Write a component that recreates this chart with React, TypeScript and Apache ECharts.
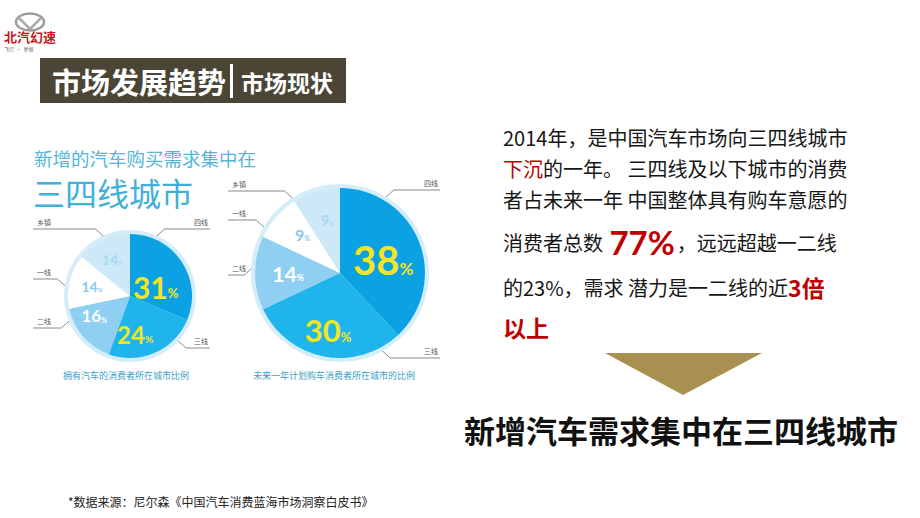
import React, { useEffect, useRef } from "react";
import * as echarts from "echarts";

// ---- data ----
const categories = ["四线", "三线", "二线", "一线", "乡镇"];
const ownerShare = [31, 24, 16, 14, 14]; // 拥有汽车的消费者所在城市比例
const plannedShare = [38, 30, 14, 9, 9]; // 未来一年计划购车消费者所在城市的比例
const chartTitleTop = "新增的汽车购买需求集中在";
const chartTitleBig = "三四线城市";
const leftCaption = "拥有汽车的消费者所在城市比例";
const rightCaption = "未来一年计划购车消费者所在城市的比例";

// ---- styles / label placement ----
const sliceColors = ["#0ba1e2", "#1fb4ec", "#8fcff1", "#ffffff", "#cde9f7"];
const pctColors = ["#f1e525", "#f1e525", "#ffffff", "#86c9ea", "#a9d8ef"];
const leftPctSizes = [30, 24, 17, 14, 14];
const rightPctSizes = [40, 31, 21, 16, 15];
const leftPctAngleAdj = [14, 16, 12, 0, 0];
const leftPctRadiusFrac = [0.44, 0.62, 0.66, 0.63, 0.66];
const rightPctAngleAdj = [5, 1, 0, 4, 3];
const rightPctRadiusFrac = [0.53, 0.69, 0.61, 0.63, 0.64];
const labelSides = ["right", "right", "left", "left", "left"];
const leftLabelLineY = [229, 348, 328, 279, 229];
const rightLabelLineY = [190, 358, 275, 220, 191];
const haloColor = "#d5edf9";
const CJK = '"Noto Sans CJK SC", "Noto Sans", sans-serif';

function makePie(
  values: number[],
  cx: number,
  cy: number,
  r: number,
  boxLeft: number,
  boxRight: number,
  pctSizes: number[],
  angleAdj: number[],
  radiusFrac: number[],
  lineYs: number[]
) {
  const boxW = boxRight - boxLeft;
  const total = values.reduce((a, b) => a + b, 0);
  const midAngles: number[] = [];
  let acc = 0;
  values.forEach((v) => {
    midAngles.push(((acc + v / 2) / total) * 360);
    acc += v;
  });
  const base = {
    type: "pie",
    left: boxLeft,
    top: 0,
    width: boxW,
    height: 518,
    center: [cx - boxLeft, cy],
    silent: true,
    clockwise: true,
    startAngle: 90,
    emphasis: { disabled: true },
  };
  const halo = {
    ...base,
    radius: [0, r + 4],
    label: { show: false },
    labelLine: { show: false },
    data: [{ value: 1, name: "", itemStyle: { color: haloColor } }],
  };
  const slices = {
    ...base,
    radius: [0, r],
    avoidLabelOverlap: false,
    labelLine: { show: false },
    labelLayout: (params: any) => {
      const i = params.dataIndex;
      const a = ((midAngles[i] + angleAdj[i]) * Math.PI) / 180;
      const d = r * radiusFrac[i];
      return {
        x: cx + d * Math.sin(a),
        y: cy - d * Math.cos(a),
        align: "center",
        verticalAlign: "middle",
      };
    },
    data: values.map((v, i) => ({
      value: v,
      name: categories[i],
      itemStyle: { color: sliceColors[i], borderWidth: 0 },
      label: {
        show: true,
        position: "inside",
        formatter: "{n|" + v + "}{p|%}",
        rich: {
          n: {
            fontSize: pctSizes[i],
            fontWeight: "bold",
            color: pctColors[i],
            fontFamily: "Lato, sans-serif",
            verticalAlign: "bottom",
          },
          p: {
            fontSize: Math.round(pctSizes[i] * 0.42),
            fontWeight: "bold",
            color: pctColors[i],
            fontFamily: "Lato, sans-serif",
            verticalAlign: "bottom",
            padding: [0, 0, Math.round(pctSizes[i] * 0.08), 0],
          },
        },
      },
    })),
  };
  const R = r + 1;
  const names = {
    ...base,
    radius: [0, r],
    avoidLabelOverlap: false,
    itemStyle: { color: "rgba(0,0,0,0)" },
    label: {
      show: true,
      position: "outside",
      overflow: "none",
      formatter: "{b}",
      fontSize: 7,
      color: "#555",
      fontFamily: CJK,
    },
    labelLine: {
      show: true,
      length: 9,
      length2: 10,
      lineStyle: { color: "#8a8a8a", width: 1 },
    },
    labelLayout: (params: any) => {
      const i = params.dataIndex;
      const isLeft = labelSides[i] === "left";
      const ly = lineYs[i];
      const ay = ly + (ly < cy ? 9 : -9);
      const dy = ay - cy;
      const hw = Math.sqrt(Math.max(0, R * R - dy * dy));
      const ax = isLeft ? cx - hw : cx + hw;
      const ex = isLeft ? ax - 10 : ax + 10;
      const endX = isLeft ? boxLeft : boxRight;
      return {
        labelLinePoints: [
          [ax, ay],
          [ex, ly],
          [endX, ly],
        ],
        x: isLeft ? boxLeft + 4 : boxRight - 2,
        y: ly - 7,
        align: isLeft ? "left" : "right",
        verticalAlign: "middle",
      };
    },
    data: values.map((v, i) => ({ value: v, name: categories[i] })),
  };
  return [halo, slices, names];
}

export default function App() {
  const ref = useRef<HTMLDivElement>(null);
  useEffect(() => {
    if (!ref.current) return;
    const chart = echarts.init(ref.current, null, { renderer: "svg" });
    const textBase = { fontFamily: CJK };
    const black = "#161616";
    const red = "#c00000";
    const option: any = {
      animation: false,
      backgroundColor: "#ffffff",
      textStyle: { fontFamily: CJK },
      series: [
        ...makePie(ownerShare, 130, 296, 62, 33, 210, leftPctSizes, leftPctAngleAdj, leftPctRadiusFrac, leftLabelLineY),
        ...makePie(plannedShare, 340, 273, 85, 228, 440, rightPctSizes, rightPctAngleAdj, rightPctRadiusFrac, rightLabelLineY),
      ],
      graphic: [
        // logo
        {
          type: "ellipse",
          shape: { cx: 30, cy: 22, rx: 14, ry: 8.5 },
          style: { fill: "none", stroke: "#9c9c9c", lineWidth: 2.5 },
        },
        {
          type: "polyline",
          shape: { points: [[19, 18], [30, 29], [41, 18]] },
          style: { fill: "none", stroke: "#a8a8a8", lineWidth: 2.5 },
        },
        {
          type: "text",
          x: 4,
          y: 36,
          style: { ...textBase, text: "北汽幻速", fontSize: 13, fontWeight: "bold", fill: "#c8161d", verticalAlign: "middle" },
        },
        {
          type: "text",
          x: 4,
          y: 48,
          style: { ...textBase, text: "飞行  ·  梦想", fontSize: 5, fill: "#666", verticalAlign: "middle" },
        },
        // title box
        {
          type: "rect",
          shape: { x: 40, y: 58, width: 306, height: 45 },
          style: { fill: "#4a4535" },
        },
        {
          type: "text",
          x: 52,
          y: 81,
          style: { ...textBase, text: "市场发展趋势", fontSize: 29, fontWeight: "bold", fill: "#ffffff", verticalAlign: "middle" },
        },
        {
          type: "rect",
          shape: { x: 230, y: 64, width: 3, height: 34 },
          style: { fill: "#ffffff" },
        },
        {
          type: "text",
          x: 241,
          y: 82,
          style: { ...textBase, text: "市场现状", fontSize: 23, fontWeight: "bold", fill: "#ffffff", verticalAlign: "middle" },
        },
        // pie infographic titles
        {
          type: "text",
          x: 34,
          y: 158,
          style: { ...textBase, text: chartTitleTop, fontSize: 18.5, lineHeight: 20, fill: "#55b6d8", verticalAlign: "middle" },
        },
        {
          type: "text",
          x: 33,
          y: 192,
          style: { ...textBase, text: chartTitleBig, fontSize: 32, lineHeight: 32, fill: "#3eb0da", verticalAlign: "middle" },
        },
        {
          type: "text",
          x: 126,
          y: 375,
          style: { ...textBase, text: leftCaption, fontSize: 9, fill: "#3b9fc9", align: "center", verticalAlign: "middle" },
        },
        {
          type: "text",
          x: 334,
          y: 375,
          style: { ...textBase, text: rightCaption, fontSize: 9, fill: "#3b9fc9", align: "center", verticalAlign: "middle" },
        },
        // right paragraph
        {
          type: "text",
          x: 503,
          y: 137,
          style: { ...textBase, text: "2014年，是中国汽车市场向三四线城市", fontSize: 20, fill: black, verticalAlign: "middle" },
        },
        {
          type: "text",
          x: 503,
          y: 168,
          style: {
            ...textBase,
            text: "{r|下沉}{n|的一年。 三四线及以下城市的消费}",
            verticalAlign: "middle",
            rich: {
              r: { fontSize: 20, fill: red, color: red, fontFamily: CJK },
              n: { fontSize: 20, fill: black, color: black, fontFamily: CJK },
            },
          },
        },
        {
          type: "text",
          x: 503,
          y: 199,
          style: { ...textBase, text: "者占未来一年 中国整体具有购车意愿的", fontSize: 20, fill: black, verticalAlign: "middle" },
        },
        {
          type: "text",
          x: 503,
          y: 242,
          style: {
            ...textBase,
            text: "{n|消费者总数 }{b|77%}{n|，远远超越一二线}",
            verticalAlign: "middle",
            rich: {
              n: { fontSize: 20, fill: black, color: black, fontFamily: CJK },
              b: { fontSize: 33, fontWeight: "bold", fill: red, color: red, fontFamily: "Lato, sans-serif", padding: [0, 2, 0, 2] },
            },
          },
        },
        {
          type: "text",
          x: 503,
          y: 287,
          style: {
            ...textBase,
            text: "{n|的23%，需求 潜力是一二线的近}{b|3倍}",
            verticalAlign: "middle",
            rich: {
              n: { fontSize: 20, fill: black, color: black, fontFamily: CJK },
              b: { fontSize: 23, fontWeight: "bold", fill: red, color: red, fontFamily: CJK },
            },
          },
        },
        {
          type: "text",
          x: 503,
          y: 327,
          style: { ...textBase, text: "以上", fontSize: 23, fontWeight: "bold", fill: red, verticalAlign: "middle" },
        },
        // arrow
        {
          type: "polygon",
          shape: { points: [[605, 353], [762, 353], [683, 395]] },
          style: { fill: "#a89150" },
        },
        {
          type: "text",
          x: 681,
          y: 429,
          style: { ...textBase, text: "新增汽车需求集中在三四线城市", fontSize: 31, fontWeight: "bold", fill: "#111", align: "center", verticalAlign: "middle" },
        },
        // footnote
        {
          type: "text",
          x: 68,
          y: 501,
          style: { ...textBase, text: "*数据来源：尼尔森《中国汽车消费蓝海市场洞察白皮书》", fontSize: 12, fill: "#222", verticalAlign: "middle" },
        },
      ],
    };
    chart.setOption(option);
    return () => chart.dispose();
  }, []);
  return (
    <div
      ref={ref}
      style={{ position: "fixed", left: 0, top: 0, width: 920, height: 518, background: "#fff" }}
    />
  );
}
